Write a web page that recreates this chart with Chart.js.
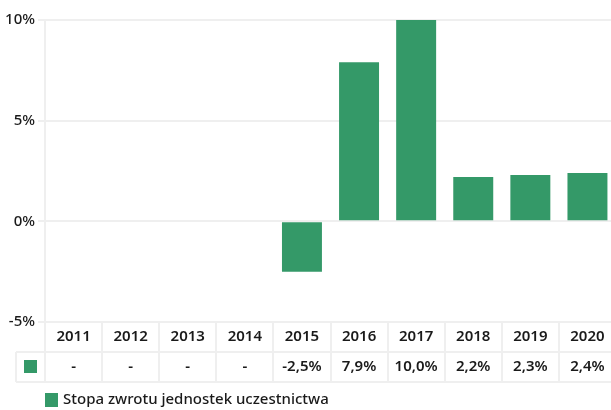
<!DOCTYPE html>
<html>
<head>
<meta charset="utf-8">
<script src="https://cdn.jsdelivr.net/npm/chart.js@4/dist/chart.umd.min.js"></script>
<style>
  html, body { margin: 0; padding: 0; background: #fff; overflow: hidden; }
  #wrap { width: 616px; height: 410px; }
</style>
</head>
<body>
<div id="wrap"><canvas id="c"></canvas></div>
<script>
// data
const years = ['2011', '2012', '2013', '2014', '2015', '2016', '2017', '2018', '2019', '2020'];
const returns = [null, null, null, null, -2.5, 7.9, 10.0, 2.2, 2.3, 2.4];
const returnLabels = ['-', '-', '-', '-', '-2,5%', '7,9%', '10,0%', '2,2%', '2,3%', '2,4%'];
const yTicks = [-5, 0, 5, 10];
const seriesName = 'Stopa zwrotu jednostek uczestnictwa';

const green = '#349968';
const gridCol = '#efefef';
const textCol = '#1a1a1a';
const FONT = '"Noto Sans", sans-serif';

// table under the x axis + legend, drawn with the x scale positions
const tablePlugin = {
  id: 'dataTable',
  afterDraw(chart) {
    const ctx = chart.ctx;
    const x = chart.scales.x;
    const area = chart.chartArea;
    const top = area.bottom;
    const mid = top + 30;
    const bot = top + 60;
    const step = x.getPixelForValue(1) - x.getPixelForValue(0);
    ctx.save();
    ctx.strokeStyle = gridCol;
    ctx.lineWidth = 2;
    ctx.beginPath();
    // vertical lines between columns
    for (let i = 0; i <= years.length; i++) {
      const px = Math.round(x.getPixelForValue(i) - step / 2);
      ctx.moveTo(px, top);
      ctx.lineTo(px, bot);
    }
    ctx.moveTo(16, mid); ctx.lineTo(area.right, mid);
    ctx.moveTo(16, bot); ctx.lineTo(area.right, bot);
    ctx.moveTo(16, mid); ctx.lineTo(16, bot);
    ctx.stroke();

    // swatch in the first cell
    const ds = chart.data.datasets[0];
    ctx.fillStyle = ds.backgroundColor;
    ctx.fillRect(24, mid + 8, 13, 13);

    ctx.fillStyle = textCol;
    ctx.font = '600 15px ' + FONT;
    ctx.textAlign = 'center';
    ctx.textBaseline = 'middle';
    returnLabels.forEach((t, i) => {
      ctx.fillText(t, x.getPixelForValue(i), mid + 15);
    });

    // legend
    const ly = bot + 18;
    ctx.fillStyle = ds.backgroundColor;
    ctx.fillRect(45, ly - 7, 13, 14);
    ctx.fillStyle = textCol;
    ctx.textAlign = 'left';
    ctx.font = '500 15px ' + FONT;
    ctx.fillText(ds.label, 63, ly);
    ctx.restore();
  }
};

new Chart(document.getElementById('c'), {
  type: 'bar',
  data: {
    labels: years,
    datasets: [{
      label: seriesName,
      data: returns,
      backgroundColor: green,
      barPercentage: 0.7,
      categoryPercentage: 1.0
    }]
  },
  options: {
    responsive: true,
    maintainAspectRatio: false,
    animation: false,
    layout: { padding: { top: 20, right: 0, bottom: 28, left: 0 } },
    plugins: {
      legend: { display: false },
      tooltip: { enabled: false }
    },
    scales: {
      x: {
        grid: { display: false },
        border: { display: false },
        ticks: {
          color: textCol,
          padding: -2,
          font: { family: FONT, size: 15, weight: '600' }
        },
        afterFit(s) { s.height = 60; }
      },
      y: {
        min: -5,
        max: 10,
        afterBuildTicks(s) { s.ticks = yTicks.map(v => ({ value: v })); },
        grid: { color: gridCol, lineWidth: 2, tickLength: 7 },
        border: { display: true, color: gridCol, width: 2 },
        ticks: {
          color: textCol,
          padding: 3,
          font: { family: FONT, size: 15, weight: '500' },
          callback: v => v + '%'
        },
        afterFit(s) { s.width = 45; }
      }
    }
  },
  plugins: [tablePlugin]
});
</script>
</body>
</html>
